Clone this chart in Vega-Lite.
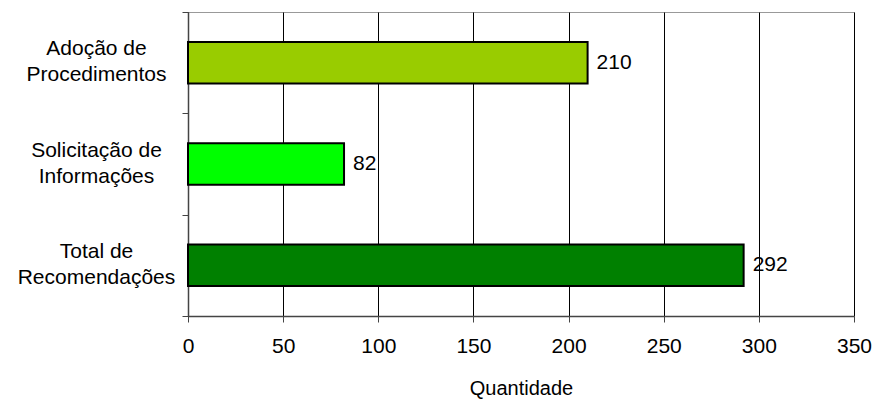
{
  "$schema": "https://vega.github.io/schema/vega-lite/v6.json",
  "width": 666,
  "height": 304,
  "autosize": "none",
  "padding": {"left": 188, "top": 12, "right": 21, "bottom": 83},
  "background": "white",
  "config": {
    "font": "Liberation Sans",
    "view": {"stroke": "#999999", "strokeWidth": 1}
  },
  "data": {
    "values": [
      {"categoria": "Adoção de|Procedimentos", "quantidade": 210, "cor": "#99CC00"},
      {"categoria": "Solicitação de|Informações", "quantidade": 82, "cor": "#00FF00"},
      {"categoria": "Total de|Recomendações", "quantidade": 292, "cor": "#008000"}
    ]
  },
  "encoding": {
    "y": {
      "field": "categoria",
      "type": "nominal",
      "sort": null,
      "scale": {"paddingInner": 0, "paddingOuter": 0},
      "axis": {
        "title": null,
        "labelExpr": "split(datum.label, '|')",
        "labelFontSize": 21,
        "labelColor": "black",
        "labelLineHeight": 26,
        "labelPadding": 86,
        "labelAlign": "center",
        "labelOffset": -14,
        "labelOverlap": false,
        "labelBound": false,
        "tickBand": "extent",
        "tickSize": 6,
        "tickColor": "#444444",
        "domainColor": "#444444",
        "domainWidth": 1.5,
        "grid": false
      }
    },
    "x": {
      "field": "quantidade",
      "type": "quantitative",
      "scale": {"domain": [0, 350], "nice": false},
      "axis": {
        "title": "Quantidade",
        "titleFontSize": 20,
        "titleFontWeight": "normal",
        "titleColor": "black",
        "titlePadding": 22,
        "values": [0, 50, 100, 150, 200, 250, 300, 350],
        "labelFontSize": 21,
        "labelColor": "black",
        "labelPadding": 13,
        "labelFlush": false,
        "labelOverlap": false,
        "tickSize": 6,
        "tickColor": "#444444",
        "domainColor": "#444444",
        "domainWidth": 1.5,
        "grid": true,
        "gridColor": "black",
        "gridOpacity": 1,
        "gridWidth": 1
      }
    }
  },
  "layer": [
    {
      "mark": {"type": "bar", "height": {"band": 0.41}, "stroke": "black", "strokeWidth": 2},
      "encoding": {
        "color": {"field": "cor", "type": "nominal", "scale": null}
      }
    },
    {
      "mark": {"type": "text", "align": "left", "baseline": "middle", "dx": 9, "fontSize": 21, "color": "black"},
      "encoding": {
        "text": {"field": "quantidade", "type": "quantitative"}
      }
    }
  ]
}
